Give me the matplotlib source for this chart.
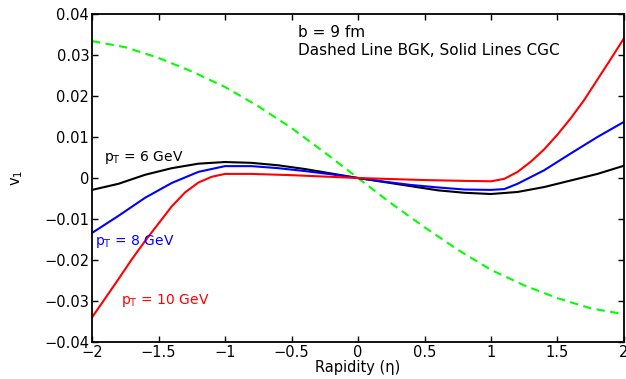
import numpy as np
import matplotlib.pyplot as plt

# v1 vs rapidity
x_bgk = [-2.0, -1.75, -1.5, -1.25, -1.0, -0.75, -0.5, -0.25, 0.0,
         0.25, 0.5, 0.75, 1.0, 1.25, 1.5, 1.75, 2.0]
v1_bgk = [0.0334, 0.0319, 0.0293, 0.0260, 0.0222, 0.0175, 0.0122, 0.0062, 0.0,
          -0.0062, -0.0120, -0.0175, -0.0224, -0.0262, -0.0293, -0.0318, -0.0332]

x_6 = [-2.0, -1.8, -1.6, -1.4, -1.2, -1.0, -0.8, -0.6, -0.4, -0.2, 0.0,
       0.2, 0.4, 0.6, 0.8, 1.0, 1.2, 1.4, 1.6, 1.8, 2.0]
v1_6 = [-0.0029, -0.0014, 0.0008, 0.0024, 0.0035, 0.0039, 0.0037, 0.0031, 0.0022, 0.0011, 0.0,
        -0.0010, -0.0020, -0.0030, -0.0036, -0.0039, -0.0034, -0.0022, -0.0006, 0.0010, 0.0030]

x_8 = [-2.0, -1.8, -1.6, -1.4, -1.2, -1.0, -0.8, -0.6, -0.4, -0.2, 0.0,
       0.2, 0.4, 0.6, 0.8, 1.0, 1.1, 1.2, 1.4, 1.6, 1.8, 2.0]
v1_8 = [-0.0134, -0.0092, -0.0048, -0.0012, 0.0015, 0.0029, 0.0029, 0.0024, 0.0017, 0.0009, 0.0,
        -0.0009, -0.0017, -0.0023, -0.0028, -0.0029, -0.0027, -0.0014, 0.0019, 0.0060, 0.0100, 0.0137]

x_10 = [-2.0, -1.9, -1.8, -1.7, -1.6, -1.5, -1.4, -1.3, -1.2, -1.1, -1.0, -0.8, -0.5, 0.0,
        0.5, 0.8, 1.0, 1.1, 1.2, 1.3, 1.4, 1.5, 1.6, 1.7, 1.8, 1.9, 2.0]
v1_10 = [-0.0340, -0.0293, -0.0246, -0.0198, -0.0153, -0.0111, -0.0069, -0.0035, -0.0011, 0.0003,
         0.0010, 0.0010, 0.0007, 0.0, -0.0005, -0.0007, -0.0008, -0.0002, 0.0015, 0.0040, 0.0070,
         0.0106, 0.0146, 0.0190, 0.0240, 0.0290, 0.0341]

fig = plt.figure(figsize=(6.26, 3.79), dpi=100)
ax = fig.add_axes([0.147, 0.0976, 0.8498, 0.8654])

ax.plot(x_bgk, v1_bgk, color=(0, 1, 0), lw=1.5, dashes=(4, 2.6))
ax.plot(x_6, v1_6, color='k', lw=1.5)
ax.plot(x_8, v1_8, color='b', lw=1.5)
ax.plot(x_10, v1_10, color='r', lw=1.5)

ax.set_xlim(-2, 2)
ax.set_ylim(-0.04, 0.04)
ax.set_xticks(np.arange(-2, 2.01, 0.5))
ax.set_xticklabels(['\u22122', '\u22121.5', '\u22121', '\u22120.5', '0', '0.5', '1', '1.5', '2'])
ax.set_yticks(np.arange(-0.04, 0.041, 0.01))
ax.set_yticklabels(['\u22120.04', '\u22120.03', '\u22120.02', '\u22120.01', '0',
                    '0.01', '0.02', '0.03', '0.04'])
ax.tick_params(direction='in', top=True, right=True, length=4, width=1,
               labelsize=10.5, pad=2)
for s in ax.spines.values():
    s.set_linewidth(1.3)

ax.set_xlabel('Rapidity (\u03b7)', fontsize=10.5, labelpad=0)
ax.set_ylabel('v$_1$', fontsize=10.5, labelpad=14)

ax.text(-0.451, 0.0354, 'b = 9 fm', fontsize=11, va='center')
ax.text(-0.451, 0.0312, 'Dashed Line BGK, Solid Lines CGC', fontsize=11, va='center')
ax.text(-1.91, 0.0049, 'p$_\\mathrm{T}$ = 6 GeV', fontsize=10, va='center', color='k')
ax.text(-1.977, -0.0156, 'p$_\\mathrm{T}$ = 8 GeV', fontsize=10, va='center', color='b')
ax.text(-1.78, -0.0298, 'p$_\\mathrm{T}$ = 10 GeV', fontsize=10, va='center', color='r')

fig.savefig('out.png', dpi=100)
